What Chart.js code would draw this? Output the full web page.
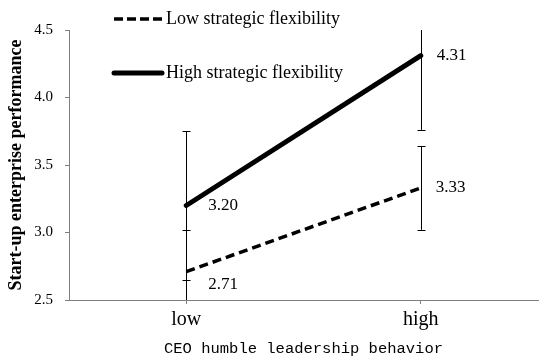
<!DOCTYPE html>
<html lang="en">
<head>
  <meta charset="UTF-8" />
  <title>CEO humble leadership behavior</title>
  <script src="https://cdn.jsdelivr.net/npm/chart.js"></script>
  <style>
    html, body { margin: 0; padding: 0; background: #fff; }
    #wrap { width: 550px; height: 363px; }
  </style>
</head>
<body>
  <div id="wrap"><canvas id="chart" width="550" height="363"></canvas></div>

  <script>
    // data
    const categories = ["low", "high"];
    const lowFlex = [2.71, 3.33];
    const highFlex = [3.20, 4.31];
    const lowFlexErr = [0.31, 0.31];
    const highFlexErr = [0.55, 0.55];
    const yTicks = [2.5, 3.0, 3.5, 4.0, 4.5];
    const seriesNames = ["Low strategic flexibility", "High strategic flexibility"];

    const serif = "'Liberation Serif', 'Times New Roman', serif";
    const axisGray = "#808080";

    // label nudges (pixels) per dataset / point
    const labelShift = [
      [[22, 13], [15, 0]],
      [[22, 0], [16, 0]]
    ];

    const errorBars = {
      id: "errorBars",
      beforeDatasetsDraw(chart) {
        const { ctx, chartArea, scales } = chart;
        const errs = [lowFlexErr, highFlexErr];
        ctx.save();
        ctx.beginPath();
        ctx.rect(chartArea.left, chartArea.top, chartArea.right - chartArea.left, chartArea.bottom - chartArea.top);
        ctx.clip();
        ctx.strokeStyle = "#000";
        ctx.lineWidth = 1;
        chart.data.datasets.forEach((ds, di) => {
          ds.data.forEach((v, i) => {
            const x = Math.round(scales.x.getPixelForValue(i)) + 0.5;
            const yTop = scales.y.getPixelForValue(v + errs[di][i]);
            const yBot = scales.y.getPixelForValue(v - errs[di][i]);
            ctx.beginPath();
            ctx.moveTo(x, yTop);
            ctx.lineTo(x, yBot);
            ctx.moveTo(x - 4, Math.round(yTop) + 0.5);
            ctx.lineTo(x + 4, Math.round(yTop) + 0.5);
            ctx.moveTo(x - 4, Math.round(yBot) + 0.5);
            ctx.lineTo(x + 4, Math.round(yBot) + 0.5);
            ctx.stroke();
          });
        });
        ctx.restore();
      },
      afterDatasetsDraw(chart) {
        const { ctx } = chart;
        ctx.save();
        ctx.fillStyle = "#000";
        ctx.font = "17px " + serif;
        ctx.textAlign = "left";
        ctx.textBaseline = "middle";
        chart.data.datasets.forEach((ds, di) => {
          const meta = chart.getDatasetMeta(di);
          meta.data.forEach((pt, i) => {
            const s = labelShift[di][i];
            ctx.fillText(ds.data[i].toFixed(2), pt.x + s[0], pt.y + s[1]);
          });
        });
        ctx.restore();
      }
    };

    const legendLines = {
      id: "legendLines",
      afterDraw(chart) {
        const { ctx } = chart;
        const rows = [
          { y: 19, width: 3.5, dash: [9, 4], cap: "butt" },
          { y: 73, width: 5, dash: [], cap: "round" }
        ];
        ctx.save();
        rows.forEach((r, i) => {
          ctx.beginPath();
          ctx.setLineDash(r.dash);
          ctx.lineCap = r.cap;
          ctx.lineWidth = r.width;
          ctx.strokeStyle = "#000";
          ctx.moveTo(114, r.y);
          ctx.lineTo(162, r.y);
          ctx.stroke();
          ctx.setLineDash([]);
          ctx.fillStyle = "#000";
          ctx.font = "18px " + serif;
          ctx.textAlign = "left";
          ctx.textBaseline = "middle";
          ctx.fillText(seriesNames[i], 166, r.y);
        });
        ctx.restore();
      }
    };

    new Chart(document.getElementById("chart"), {
      type: "line",
      data: {
        labels: categories,
        datasets: [
          {
            label: seriesNames[0],
            data: lowFlex,
            borderColor: "#000",
            borderWidth: 3.5,
            borderDash: [9, 5],
            pointRadius: 0,
            tension: 0
          },
          {
            label: seriesNames[1],
            data: highFlex,
            borderColor: "#000",
            borderWidth: 5,
            borderCapStyle: "round",
            pointRadius: 0,
            tension: 0
          }
        ]
      },
      options: {
        responsive: false,
        animation: false,
        events: [],
        layout: { padding: { top: 30, right: 12, left: 0, bottom: 0 } },
        plugins: {
          legend: { display: false },
          tooltip: { enabled: false }
        },
        scales: {
          x: {
            offset: true,
            afterFit: s => { s.height = 63; },
            grid: { drawOnChartArea: false, tickLength: 4, color: axisGray },
            border: { color: axisGray },
            ticks: { color: "#000", font: { family: serif, size: 20 }, padding: 4 },
            title: {
              display: true,
              text: "CEO humble leadership behavior",
              color: "#000",
              font: { family: "'Liberation Mono', 'DejaVu Sans Mono', monospace", size: 15.5 },
              padding: { top: 6, bottom: 5 }
            }
          },
          y: {
            min: 2.5,
            max: 4.5,
            afterFit: s => { s.width = 69; },
            afterBuildTicks: s => { s.ticks = yTicks.map(v => ({ value: v })); },
            grid: { drawOnChartArea: false, tickLength: 4, color: axisGray },
            border: { color: axisGray },
            ticks: {
              color: "#000",
              font: { family: serif, size: 15 },
              padding: 12,
              callback: v => Number(v).toFixed(1)
            },
            title: {
              display: true,
              text: "Start-up enterprise performance",
              color: "#000",
              font: { family: serif, size: 18, weight: "bold" },
              padding: 6
            }
          }
        }
      },
      plugins: [errorBars, legendLines]
    });
  </script>
</body>
</html>
